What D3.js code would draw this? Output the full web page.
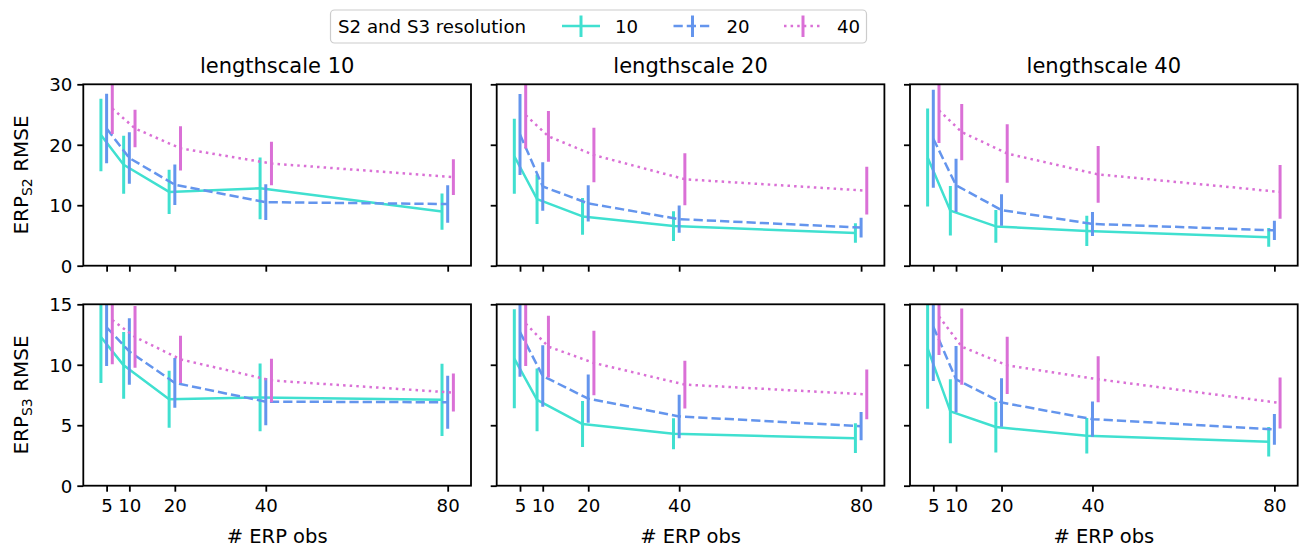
<!DOCTYPE html>
<html>
<head>
<meta charset="utf-8">
<script src="https://cdn.jsdelivr.net/npm/d3@7"></script>
<style>
  html, body { margin: 0; padding: 0; background: #fff; }
  svg { display: block; font-family: "DejaVu Sans", sans-serif; }
</style>
</head>
<body>
<svg id="chart" width="1306" height="548"></svg>
<script>
// ---------------- data ----------------
const xVals = [5, 10, 20, 40, 80];
const xTickLabels = ["5", "10", "20", "40", "80"];
const resolutions = ["10", "20", "40"];
const lengthscales = ["lengthscale 10", "lengthscale 20", "lengthscale 40"];
const yTicksS2 = [0, 10, 20, 30];
const yTicksS3 = [0, 5, 10, 15];

// ERP_S2 RMSE: rows = resolution 10, 20, 40
const s2_ls10_mean = [[21.6, 16.7, 12.2, 12.8, 8.95], [22.7, 17.8, 13.4, 10.5, 10.2], [26.0, 22.7, 19.4, 16.9, 14.65]];
const s2_ls10_err  = [[6.0, 4.8, 3.65, 5.1, 3.0], [5.75, 4.25, 3.35, 2.95, 3.1], [4.2, 3.1, 3.65, 3.6, 2.95]];
const s2_ls20_mean = [[18.1, 11.0, 8.15, 6.55, 5.4], [21.7, 13.1, 10.3, 7.7, 6.3], [24.9, 21.4, 18.3, 14.3, 12.4]];
const s2_ls20_err  = [[6.2, 4.1, 3.05, 2.45, 1.6], [6.7, 4.0, 3.0, 2.25, 1.65], [5.5, 4.2, 4.5, 4.3, 3.95]];
const s2_ls40_mean = [[17.9, 9.1, 6.5, 5.75, 4.7], [21.0, 13.3, 9.2, 6.9, 5.85], [25.7, 22.1, 18.55, 15.1, 12.2]];
const s2_ls40_err  = [[8.1, 4.1, 2.7, 2.5, 1.55], [8.1, 4.4, 2.6, 2.0, 1.6], [5.4, 4.65, 4.85, 4.7, 4.45]];

// ERP_S3 RMSE
const s3_ls10_mean = [[12.3, 9.95, 7.15, 7.3, 7.1], [13.1, 11.1, 8.5, 6.95, 6.9], [13.7, 12.3, 10.45, 8.7, 7.7]];
const s3_ls10_err  = [[3.8, 2.75, 2.35, 2.8, 2.98], [3.2, 2.75, 2.05, 1.95, 2.2], [3.65, 2.55, 1.95, 1.8, 1.57]];
const s3_ls20_mean = [[10.5, 7.1, 5.1, 4.3, 3.93], [12.7, 9.07, 7.2, 5.73, 4.92], [13.4, 11.5, 10.15, 8.36, 7.55]];
const s3_ls20_err  = [[4.1, 2.6, 1.9, 1.28, 1.23], [3.7, 2.55, 2.0, 1.8, 1.17], [3.5, 2.55, 2.67, 1.97, 2.05]];
const s3_ls40_mean = [[11.36, 6.15, 4.85, 4.13, 3.64], [13.15, 8.8, 6.88, 5.5, 4.66], [14.0, 11.5, 9.95, 8.8, 6.84]];
const s3_ls40_err  = [[5.0, 2.65, 2.1, 1.46, 1.22], [4.5, 2.75, 2.0, 1.46, 1.27], [3.2, 3.15, 2.36, 1.9, 2.1]];

// ---------------- styling ----------------
const colors = ["#40E0D0", "#6495ED", "#DA70D6"];
const dashes = [null, "9.25,4", "2.5,4.1"];
const xOffsets = [-1.25, 0, 1.25];
const lineW = 2.5, barW = 3;
const tickFont = 18.2, labelFont = 19.5, titleFont = 21, yLabelFont = 20;

const svg = d3.select("#chart");
const panelLeft = [83.3, 496.7, 910];
const panelW = 387.7;
const rows = [
  {top: 84.3, bottom: 265.7, ymax: 30, ticks: yTicksS2, sub: "S2",
   means: [s2_ls10_mean, s2_ls20_mean, s2_ls40_mean], errs: [s2_ls10_err, s2_ls20_err, s2_ls40_err]},
  {top: 304.3, bottom: 485.7, ymax: 15, ticks: yTicksS3, sub: "S3",
   means: [s3_ls10_mean, s3_ls20_mean, s3_ls40_mean], errs: [s3_ls10_err, s3_ls20_err, s3_ls40_err]}
];

const defs = svg.append("defs");

rows.forEach((row, ri) => {
  const y = d3.scaleLinear().domain([0, row.ymax]).range([row.bottom, row.top]);
  panelLeft.forEach((pl, ci) => {
    const x = d3.scaleLinear().domain([-0.125, 85.125]).range([pl, pl + panelW]);
    const clipId = `clip-${ri}-${ci}`;
    defs.append("clipPath").attr("id", clipId)
      .append("rect").attr("x", pl).attr("y", row.top)
      .attr("width", panelW).attr("height", row.bottom - row.top);

    const g = svg.append("g");
    const plot = g.append("g").attr("clip-path", `url(#${clipId})`);
    resolutions.forEach((res, si) => {
      const m = row.means[ci][si], e = row.errs[ci][si];
      const line = d3.line().x((d, i) => x(xVals[i] + xOffsets[si])).y(d => y(d));
      plot.append("path").datum(m)
        .attr("d", line)
        .attr("fill", "none")
        .attr("stroke", colors[si])
        .attr("stroke-width", lineW)
        .attr("stroke-dasharray", dashes[si])
        .attr("stroke-linejoin", "round");
      plot.selectAll(null).data(m).enter().append("line")
        .attr("x1", (d, i) => x(xVals[i] + xOffsets[si]))
        .attr("x2", (d, i) => x(xVals[i] + xOffsets[si]))
        .attr("y1", (d, i) => y(d - e[i]))
        .attr("y2", (d, i) => y(d + e[i]))
        .attr("stroke", colors[si])
        .attr("stroke-width", barW);
    });

    // axes
    const xAxis = d3.axisBottom(x).tickValues(xVals).tickSize(6).tickPadding(7)
      .tickFormat((d, i) => ri === 1 ? xTickLabels[i] : "");
    const gx = g.append("g").attr("transform", `translate(0,${row.bottom})`).call(xAxis);
    const yAxis = d3.axisLeft(y).tickValues(row.ticks).tickSize(6).tickPadding(5)
      .tickFormat(d => ci === 0 ? d3.format("d")(d) : "");
    const gy = g.append("g").attr("transform", `translate(${pl},0)`).call(yAxis);
    [gx, gy].forEach(ax => {
      ax.select(".domain").remove();
      ax.selectAll(".tick line").attr("stroke", "#000").attr("stroke-width", 1.8);
      ax.selectAll(".tick text").attr("fill", "#000").style("font-size", tickFont + "px")
        .style("font-family", "DejaVu Sans");
    });
    gy.selectAll(".tick text").attr("dy", "0.36em");

    // frame
    g.append("rect").attr("x", pl).attr("y", row.top)
      .attr("width", panelW).attr("height", row.bottom - row.top)
      .attr("fill", "none").attr("stroke", "#000").attr("stroke-width", 1.8);

    if (ri === 0) {
      g.append("text").attr("x", pl + panelW / 2).attr("y", 72.5)
        .attr("text-anchor", "middle").style("font-size", titleFont + "px")
        .text(lengthscales[ci]);
    } else {
      g.append("text").attr("x", pl + panelW / 2).attr("y", 543)
        .attr("text-anchor", "middle").style("font-size", labelFont + "px")
        .text("# ERP obs");
    }
    if (ci === 0) {
      const cy = (row.top + row.bottom) / 2;
      const t = g.append("text")
        .attr("transform", `translate(28,${cy}) rotate(-90)`)
        .attr("text-anchor", "middle").style("font-size", yLabelFont + "px");
      t.append("tspan").text("ERP");
      t.append("tspan").attr("dy", "0.3em").style("font-size", (yLabelFont * 0.7) + "px").text(row.sub);
      t.append("tspan").attr("dy", "-0.21em").text(" RMSE");
    }
  });
});

// ---------------- legend ----------------
const lg = svg.append("g");
lg.append("rect").attr("x", 330.5).attr("y", 10).attr("width", 536).attr("height", 33)
  .attr("rx", 4).attr("fill", "#fff").attr("fill-opacity", 0.8)
  .attr("stroke", "#cccccc").attr("stroke-width", 1.2);
lg.append("text").attr("x", 338).attr("y", 32.5).style("font-size", tickFont + "px")
  .text("S2 and S3 resolution");
const legendX = [562, 673.5, 784];
resolutions.forEach((res, si) => {
  const lx = legendX[si];
  lg.append("line").attr("x1", lx).attr("x2", lx + 38).attr("y1", 26).attr("y2", 26)
    .attr("stroke", colors[si]).attr("stroke-width", lineW)
    .attr("stroke-dasharray", dashes[si]);
  lg.append("line").attr("x1", lx + 19).attr("x2", lx + 19).attr("y1", 15.5).attr("y2", 37)
    .attr("stroke", colors[si]).attr("stroke-width", barW);
  lg.append("text").attr("x", lx + 53).attr("y", 32.5).style("font-size", tickFont + "px")
    .text(res);
});
</script>
</body>
</html>
